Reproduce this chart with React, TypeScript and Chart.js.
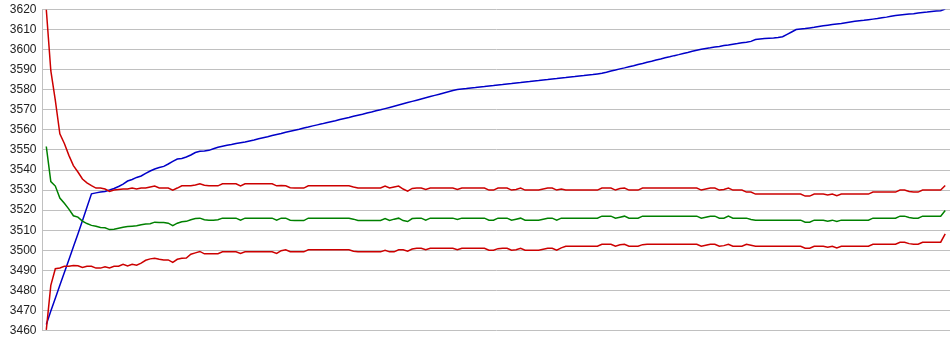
import { useEffect, useRef } from "react";
import { Chart, registerables } from "chart.js";

Chart.register(...registerables);

const Y_MIN = 3460;
const Y_MAX = 3620;
const Y_STEP = 10;

const BLUE_SERIES = [
  3463, 3469.7, 3476.1, 3482.5, 3488.9, 3495.3, 3501.7, 3508.1, 3514.7, 3521.4,
  3528.1, 3528.6, 3529, 3529.3, 3530, 3530.8, 3531.8, 3533, 3534.5, 3535.3,
  3536.3, 3537, 3538.3, 3539.5, 3540.5, 3541.2, 3541.8, 3543, 3544.3, 3545.5,
  3545.7, 3546.5, 3547.5, 3548.7, 3549.3, 3549.5, 3549.8, 3550.6, 3551.3, 3551.8,
  3552.3, 3552.7, 3553.2, 3553.6, 3554, 3554.5, 3555, 3555.6, 3556.1, 3556.6,
  3557.2, 3557.7, 3558.2, 3558.8, 3559.3, 3559.8, 3560.3, 3560.9, 3561.4, 3562,
  3562.5, 3563, 3563.6, 3564.1, 3564.6, 3565.2, 3565.7, 3566.2, 3566.8, 3567.3,
  3567.8, 3568.4, 3568.9, 3569.5, 3570, 3570.6, 3571.2, 3571.8, 3572.4, 3573,
  3573.6, 3574.2, 3574.8, 3575.4, 3576, 3576.6, 3577.2, 3577.8, 3578.4, 3579,
  3579.6, 3580.1, 3580.4, 3580.6, 3580.9, 3581.1, 3581.4, 3581.6, 3581.9, 3582.1,
  3582.4, 3582.6, 3582.9, 3583.1, 3583.4, 3583.6, 3583.9, 3584.1, 3584.4, 3584.6,
  3584.9, 3585.1, 3585.4, 3585.6, 3585.9, 3586.1, 3586.4, 3586.6, 3586.9, 3587.1,
  3587.4, 3587.6, 3587.9, 3588.2, 3588.7, 3589.3, 3589.8, 3590.4, 3590.9, 3591.5,
  3592, 3592.6, 3593.1, 3593.7, 3594.2, 3594.8, 3595.3, 3595.9, 3596.4, 3597,
  3597.5, 3598.1, 3598.6, 3599.2, 3599.7, 3600.2, 3600.6, 3600.9, 3601.3, 3601.6,
  3602, 3602.3, 3602.7, 3603, 3603.4, 3603.7, 3604.1, 3605, 3605.3, 3605.5,
  3605.7, 3605.8, 3606, 3606.4, 3607.6, 3608.8, 3610, 3610.3, 3610.5, 3610.8,
  3611.1, 3611.5, 3611.9, 3612.2, 3612.5, 3612.8, 3613, 3613.4, 3613.8, 3614.1,
  3614.4, 3614.6, 3614.9, 3615.2, 3615.5, 3615.9, 3616.2, 3616.6, 3617, 3617.3,
  3617.5, 3617.7, 3617.9, 3618.2, 3618.5, 3618.7, 3619, 3619.2, 3619.4, 3620.2,
];

const UPPER_SERIES = [
  3620, 3589.5, 3574.7, 3558, 3553.2, 3547.3, 3542.2, 3539, 3535.5, 3533.6,
  3532.2, 3531, 3531, 3530.5, 3529.3, 3530, 3530.3, 3530.5, 3530.5, 3531,
  3530.5, 3531, 3531, 3531.5, 3532, 3531, 3531, 3531, 3530, 3531,
  3532.1, 3532.1, 3532.1, 3532.5, 3533.1, 3532.4, 3532.1, 3532.1, 3532.1, 3533.1,
  3533.1, 3533.1, 3533.1, 3532.1, 3533.1, 3533.1, 3533.1, 3533.1, 3533.1, 3533.1,
  3533.1, 3532.1, 3532.3, 3532.1, 3531.2, 3531, 3531, 3531, 3532.1, 3532.1,
  3532.1, 3532.1, 3532.1, 3532.1, 3532.1, 3532.1, 3532.1, 3532.1, 3531.5, 3531,
  3531, 3531, 3531, 3531, 3531, 3532, 3531, 3531.5, 3532, 3530.5,
  3529.5, 3530.8, 3531, 3531, 3530.3, 3531, 3531, 3531, 3531, 3531,
  3531, 3530.3, 3531, 3531, 3531, 3531, 3531, 3531, 3530, 3530,
  3531, 3531, 3531, 3530, 3530.3, 3531, 3530, 3530, 3530, 3530,
  3530.5, 3531, 3531, 3530, 3530.5, 3530, 3530, 3530, 3530, 3530,
  3530, 3530, 3530, 3531, 3531, 3531, 3530, 3530.8, 3531, 3530,
  3530, 3530, 3531, 3531, 3531, 3531, 3531, 3531, 3531, 3531,
  3531, 3531, 3531, 3531, 3531, 3530, 3530.5, 3531, 3531, 3530,
  3530.3, 3531, 3530, 3530, 3530, 3529, 3529, 3528, 3528, 3528,
  3528, 3528, 3528, 3528, 3528, 3528, 3528, 3528, 3527, 3527,
  3528, 3528, 3528, 3527.5, 3528, 3527.2, 3528, 3528, 3528, 3528,
  3528, 3528, 3528, 3529, 3529, 3529, 3529, 3529, 3529, 3530,
  3530, 3529.3, 3529, 3529, 3530, 3530, 3530, 3530, 3530, 3532.3,
];

const MEAN_SERIES = [
  3551.7, 3534.2, 3532, 3526, 3523.4, 3520.5, 3517.2, 3516.5, 3514.5, 3513.3,
  3512.4, 3512, 3511.3, 3511.2, 3510.3, 3510.5, 3511, 3511.5, 3511.8, 3512,
  3512.2, 3512.7, 3513.1, 3513.2, 3514, 3513.8, 3513.8, 3513.5, 3512.3, 3513.5,
  3514.2, 3514.4, 3515.2, 3515.8, 3516, 3515.2, 3515, 3515, 3515.2, 3516,
  3516, 3516, 3516, 3515, 3516, 3516, 3516, 3516, 3516, 3516,
  3516, 3515, 3516, 3516, 3515, 3514.8, 3514.8, 3514.8, 3516, 3516,
  3516, 3516, 3516, 3516, 3516, 3516, 3516, 3516, 3515.5, 3514.8,
  3514.8, 3514.8, 3514.8, 3514.8, 3514.8, 3515.8, 3514.8, 3515.5, 3516, 3514.8,
  3514.3, 3515.8, 3516, 3516, 3515, 3516, 3516, 3516, 3516, 3516,
  3516, 3515.3, 3516, 3516, 3516, 3516, 3516, 3516, 3515, 3515,
  3516, 3516, 3516, 3515, 3515.5, 3516, 3515, 3515, 3515, 3515,
  3515.5, 3516, 3516, 3515, 3516, 3516, 3516, 3516, 3516, 3516,
  3516, 3516, 3516, 3517, 3517, 3517, 3516, 3516.5, 3517, 3516,
  3516, 3516, 3517, 3517, 3517, 3517, 3517, 3517, 3517, 3517,
  3517, 3517, 3517, 3517, 3517, 3516, 3516.5, 3517, 3517, 3516,
  3516, 3517, 3516, 3516, 3516, 3516, 3515.3, 3515, 3515, 3515,
  3515, 3515, 3515, 3515, 3515, 3515, 3515, 3515, 3514, 3514,
  3515, 3515, 3515, 3514.5, 3515, 3514.3, 3515, 3515, 3515, 3515,
  3515, 3515, 3515, 3516, 3516, 3516, 3516, 3516, 3516, 3517,
  3517, 3516.3, 3516, 3516, 3517, 3517, 3517, 3517, 3517, 3519.8,
];

const LOWER_SERIES = [
  3460.3, 3482.5, 3490.8, 3491.2, 3492, 3492, 3492.4, 3492.3, 3491.4, 3492,
  3492, 3491.1, 3491.1, 3491.8, 3491.2, 3492, 3492, 3493, 3492.2, 3493,
  3492.5, 3493.6, 3495, 3495.7, 3496, 3495.5, 3495.2, 3495.2, 3494, 3495.5,
  3496, 3496.1, 3498, 3498.7, 3499.4, 3498.2, 3498.2, 3498.2, 3498.3, 3499.2,
  3499.2, 3499.2, 3499.2, 3498.4, 3499.2, 3499.2, 3499.2, 3499.2, 3499.2, 3499.2,
  3499.2, 3498.4, 3499.8, 3500.2, 3499.3, 3499.2, 3499.2, 3499.2, 3500.2, 3500.2,
  3500.2, 3500.2, 3500.2, 3500.2, 3500.2, 3500.2, 3500.2, 3500.2, 3499.5, 3499.2,
  3499.2, 3499.2, 3499.2, 3499.2, 3499.2, 3500, 3499.2, 3499.2, 3500.2, 3500.2,
  3499.5, 3500.6, 3501, 3501, 3500.3, 3501, 3501, 3501, 3501, 3501,
  3501, 3500.3, 3501, 3501, 3501, 3501, 3501, 3501, 3500, 3500,
  3500.8, 3501, 3501, 3500, 3500.3, 3501, 3500, 3500, 3500, 3500,
  3500.5, 3501, 3501, 3500, 3501.2, 3502, 3502, 3502, 3502, 3502,
  3502, 3502, 3502, 3503, 3503, 3503, 3502, 3502.7, 3503, 3502,
  3502, 3502, 3502.8, 3503, 3503, 3503, 3503, 3503, 3503, 3503,
  3503, 3503, 3503, 3503, 3503, 3502, 3502.5, 3503, 3503, 3502,
  3502.3, 3503, 3502, 3502, 3502, 3503, 3502.5, 3502, 3502, 3502,
  3502, 3502, 3502, 3502, 3502, 3502, 3502, 3502, 3501, 3501,
  3502, 3502, 3502, 3501.5, 3502, 3501.2, 3502, 3502, 3502, 3502,
  3502, 3502, 3502, 3503, 3503, 3503, 3503, 3503, 3503, 3504,
  3504, 3503.3, 3503, 3503, 3504, 3504, 3504, 3504, 3504, 3508.2,
];

const SAMPLES = BLUE_SERIES.map((_, i) => i);

const RED = "#cc0000";
const GREEN = "#008000";
const BLUE = "#0000c8";
const GRID = "#c0c0c0";

export default function App() {
  const ref = useRef<HTMLCanvasElement>(null);

  useEffect(() => {
    if (!ref.current) return;
    const toXY = (arr: number[]) => arr.map((v, i) => ({ x: SAMPLES[i], y: v }));
    const line = (arr: number[], color: string) => ({
      data: toXY(arr),
      borderColor: color,
      backgroundColor: color,
      borderWidth: 1.5,
      pointRadius: 0,
      tension: 0,
      fill: false,
    });
    const n = SAMPLES.length;
    const chart = new Chart(ref.current, {
      type: "line",
      data: {
        datasets: [
          line(UPPER_SERIES, RED),
          line(MEAN_SERIES, GREEN),
          line(LOWER_SERIES, RED),
          line(BLUE_SERIES, BLUE),
        ],
      },
      options: {
        responsive: false,
        animation: false,
        layout: { padding: { top: 9.5, bottom: 24.5, left: 0, right: 0 } },
        plugins: { legend: { display: false }, tooltip: { enabled: false } },
        scales: {
          x: {
            type: "linear",
            display: false,
            min: SAMPLES[0] - 0.84,
            max: SAMPLES[n - 1] + 1.06,
          },
          y: {
            min: Y_MIN,
            max: Y_MAX,
            ticks: {
              stepSize: Y_STEP,
              padding: 6,
              color: "#222",
              font: { family: '"Liberation Sans", Arial, sans-serif', size: 12 },
              callback: (v: any) => String(v),
            },
            grid: { color: GRID, drawTicks: false, lineWidth: 1 },
            border: { color: GRID, width: 1 },
            afterFit: (s: any) => {
              s.width = 42.5;
              s.paddingTop = 0;
              s.paddingBottom = 0;
            },
          },
        },
      },
    } as any);
    return () => chart.destroy();
  }, []);

  return (
    <div style={{ position: "absolute", left: 0, top: 0, width: 950, height: 355, background: "#fff" }}>
      <canvas ref={ref} width={950} height={355} style={{ display: "block" }} />
    </div>
  );
}
